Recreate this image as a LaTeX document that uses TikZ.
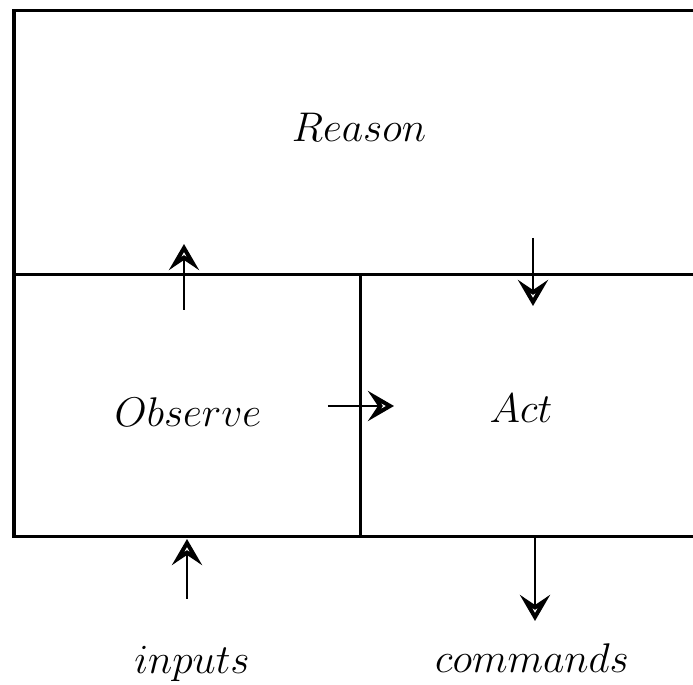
\documentclass[tikz,border=0pt]{standalone}
\usetikzlibrary{arrows.meta}
\begin{document}
\begin{tikzpicture}[x=0.5pt,y=-0.5pt,
  frame/.style={line width=1.5pt},
  flow/.style={line width=1.1pt,-{Stealth[open,length=13pt,width=15pt,inset=5pt,line width=2.2pt]}},
  lbl/.style={font=\fontsize{19.5}{23}\selectfont,inner sep=0pt}]
\useasboundingbox (0,0) rectangle (693,685);
% frame coordinates
\coordinate (tl) at (14,11);
\coordinate (tr) at (693,11);
\coordinate (ml) at (14,275);
\coordinate (mr) at (693,275);
\coordinate (bl) at (14,537);
\coordinate (br) at (693,537);
\coordinate (dt) at (361,275);
\coordinate (db) at (361,537);
\draw[frame] (tr) -- (tl) -- (bl) -- (br);
\draw[frame] (ml) -- (mr);
\draw[frame] (dt) -- (db);
% labels
\node[lbl] (reason) at (359,127) {$Reason$};
\node[lbl] (observe) at (188,412) {$Observe$};
\node[lbl] (act) at (521,408) {$Act$};
\node[lbl] (inputs) at (192,664) {$inputs$};
\node[lbl] (commands) at (532,658) {$commands$};
% arrow endpoints
\coordinate (o1) at (184,310);
\coordinate (o2) at (184,244);
\coordinate (r1) at (533,238);
\coordinate (r2) at (533,306);
\coordinate (a1) at (328,406);
\coordinate (a2) at (394,406);
\coordinate (i1) at (187,599);
\coordinate (i2) at (187,539);
\coordinate (c1) at (535,537);
\coordinate (c2) at (535,621);
\draw[flow] (o1) -- (o2);
\draw[flow] (r1) -- (r2);
\draw[flow] (a1) -- (a2);
\draw[flow] (i1) -- (i2);
\draw[flow] (c1) -- (c2);
\end{tikzpicture}
\end{document}
